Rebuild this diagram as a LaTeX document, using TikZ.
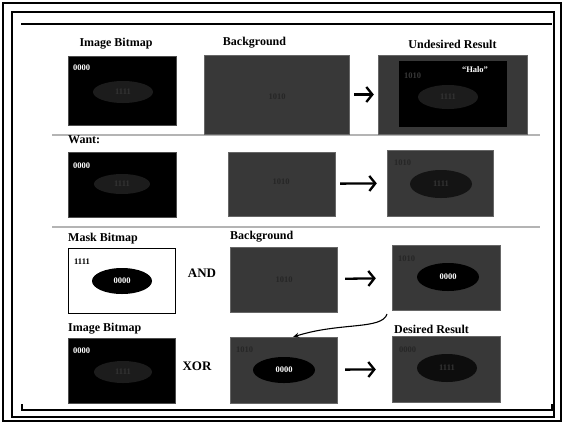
\documentclass[tikz,border=0pt]{standalone}
\usepackage{fontspec}
\setmainfont{Liberation Serif}
\usepackage{xcolor}
\definecolor{bg-gray}{HTML}{383838}
\definecolor{halo-black}{HTML}{1C1C1C}
\definecolor{faint-text}{HTML}{333333}
\definecolor{rule-gray}{HTML}{B4B4B4}
\usepackage{tikz}
\usetikzlibrary{positioning}
\usetikzlibrary{shapes.geometric}
\usetikzlibrary{arrows.meta}
\tikzset{blackbox/.style = {draw=black!70, fill=black, inner sep=0pt}}
\tikzset{graybox/.style = {draw=black!60, fill=bg-gray, inner sep=0pt}}
\tikzset{whitebox/.style = {draw=black, line width=0.9pt, fill=white, inner sep=0pt}}
\tikzset{blob/.style = {ellipse, inner sep=0pt, font=\fontsize{8.5}{9}\selectfont\bfseries}}
\tikzset{small/.style = {anchor=west, inner sep=0pt, font=\fontsize{8.5}{9}\selectfont\bfseries}}
\tikzset{heading/.style = {inner sep=0pt, font=\fontsize{12}{13}\selectfont\bfseries}}
\tikzset{opname/.style = {inner sep=0pt, font=\fontsize{13}{14}\selectfont\bfseries}}
\tikzset{arr/.style = {line width=2.3pt, -{Straight Barb[length=6pt, width=15pt]}}}
\tikzset{curv/.style = {line width=1.1pt, -{Stealth[length=6pt, width=5pt]}}}

\begin{document}
\begin{tikzpicture}[x=1pt, y=-1pt]
\useasboundingbox (0,0) rectangle (564,424);

% frame
\draw[line width=1.8pt] (3,3) rectangle (561,421);
\draw[line width=1.6pt] (12,12) rectangle (554,417);
\draw[line width=1.8pt] (21,24) -- (552,24);
\draw[line width=1.8pt] (22,404) -- (22,410) -- (552,410) -- (552,404);
\draw[rule-gray, line width=1.4pt] (52,135) -- (540,135);
\draw[rule-gray, line width=1.4pt] (52,227) -- (540,227);

% row 1: undesired result
\node[blackbox, minimum width=108pt, minimum height=69pt] (ib1) at (122,90.5) {};
\node[graybox, minimum width=145pt, minimum height=79pt] (bg1) at (276.5,94.5) {};
\node[graybox, minimum width=149pt, minimum height=79pt] (ur1) at (452.5,94.5) {};
\node[blackbox, draw=none, minimum width=108pt, minimum height=66pt] (ur1in) at (453,94) {};
\node[heading, above=6pt of ib1.north, xshift=-6pt] (l1a) {Image Bitmap};
\node[heading, above=6pt of bg1.north, xshift=-22pt] (l1b) {Background};
\node[heading, above=6pt of ur1.north] (l1c) {Undesired Result};
\node[small, text=white] (t1a) at (73,68) {0000};
\node[blob, fill=halo-black, text=faint-text, minimum width=60pt, minimum height=22pt] (e1a) at (123,92) {1111};
\node[small, anchor=center, text=black!85] (t1b) at (277,97) {1010};
\node[small, text=bg-gray] (t1c) at (404,76) {1010};
\node[small, text=white, anchor=center] (t1d) at (475,70) {“Halo”};
\node[blob, fill=halo-black, text=faint-text, minimum width=60pt, minimum height=24pt] (e1c) at (448,97) {1111};
\draw[arr, shorten <=5pt, shorten >=4pt] (bg1) -- (ur1);

% row 2: wanted
\node[heading, anchor=west] (l2a) at (68,140) {Want:};
\node[blackbox, minimum width=108pt, minimum height=65pt] (ib2) at (122,184.5) {};
\node[graybox, minimum width=107pt, minimum height=64pt] (bg2) at (281.5,184) {};
\node[graybox, minimum width=106pt, minimum height=66pt] (res2) at (440,183) {};
\node[small, text=white] (t2a) at (73,166) {0000};
\node[blob, fill=halo-black, text=faint-text, minimum width=56pt, minimum height=20pt] (e2a) at (122,184) {1111};
\node[small, anchor=center, text=black!85] (t2b) at (281,182) {1010};
\node[small, text=black!85] (t2c) at (394,163) {1010};
\node[blob, fill=black!92, text=faint-text, minimum width=62pt, minimum height=28pt] (e2c) at (441,184) {1111};
\draw[arr, shorten <=5pt, shorten >=10pt] (bg2) -- (res2);

% row 3: mask AND background
\node[whitebox, minimum width=107pt, minimum height=65pt] (mask) at (121.5,280.5) {};
\node[graybox, minimum width=107pt, minimum height=65pt] (bg3) at (283.5,279.5) {};
\node[graybox, minimum width=108pt, minimum height=65pt] (res3) at (446,277.5) {};
\node[heading, anchor=south west] (l3a) at (68,244) {Mask Bitmap};
\node[heading, anchor=south west] (l3b) at (230,242) {Background};
\node[small, text=black] (t3a) at (74,262) {1111};
\node[blob, fill=black, text=white, minimum width=60pt, minimum height=26pt] (e3a) at (122,281) {0000};
\node[opname] (and) at (202,273) {AND};
\node[small, anchor=center, text=black!85] (t3b) at (284,280) {1010};
\node[small, text=black!85] (t3c) at (398,259) {1010};
\node[blob, fill=black, text=white, minimum width=62pt, minimum height=28pt] (e3c) at (448,277) {0000};
\draw[arr, shorten <=8pt, shorten >=16pt] (bg3) -- (res3);

% row 4: image XOR masked background
\node[blackbox, minimum width=107pt, minimum height=65pt] (ib4) at (121.5,370.5) {};
\node[graybox, minimum width=107pt, minimum height=66pt] (mid4) at (283.5,370) {};
\node[graybox, minimum width=108pt, minimum height=66pt] (des4) at (446,369) {};
\node[heading, anchor=south west] (l4a) at (68,334) {Image Bitmap};
\node[heading, anchor=south west] (l4b) at (394,334) {Desired Result};
\node[small, text=white] (t4a) at (73,351) {0000};
\node[blob, fill=halo-black, text=faint-text, minimum width=58pt, minimum height=22pt] (e4a) at (123,372) {1111};
\node[opname] (xor) at (197,366) {XOR};
\node[small, text=black!85] (t4b) at (236,350) {1010};
\node[blob, fill=black, text=white, minimum width=62pt, minimum height=26pt] (e4b) at (284,370) {0000};
\node[small, text=black!85] (t4c) at (399,350) {0000};
\node[blob, fill=black!95, text=faint-text, minimum width=60pt, minimum height=28pt] (e4c) at (447,368) {1111};
\draw[arr, shorten <=8pt, shorten >=16pt] (mid4) -- (des4);

% result of AND feeds the XOR
\coordinate (cstart) at (387,314);
\coordinate (cend) at (293,337);
\draw[curv] (cstart) .. controls (382,330) and (340,322) .. (cend);

\end{tikzpicture}
\end{document}
